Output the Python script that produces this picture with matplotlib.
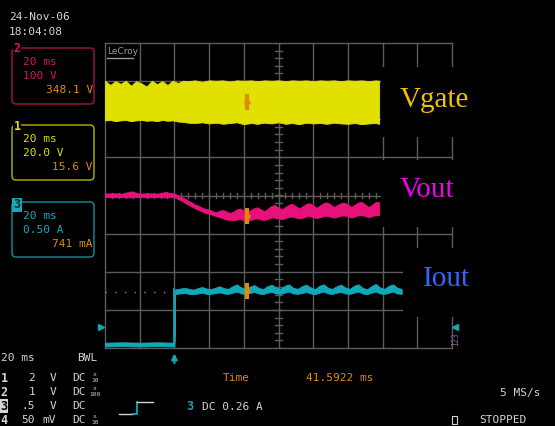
import numpy as np
import matplotlib
matplotlib.use("Agg")
import matplotlib.pyplot as plt
from matplotlib.patches import Rectangle, FancyBboxPatch

# ---------------- data (time in ms, amplitude in screen divisions) ----------------
time_per_div_ms = 20
t_left, t_right = -40, 160
cursor_time_ms = 41.5922

vgate_t = [-40, -37, -34, -31, -28, -25, -22, -19, -16, -13, -10, -7, -4, -1, 2, 5, 8, 12, 16, 20,
           24, 28, 32, 36, 40, 44, 48, 52, 56, 60, 64, 68, 72, 76, 80, 84, 88, 92, 96, 100,
           104, 108, 112, 116, 118]
vgate_top = [3.01, 2.90, 3.00, 2.93, 3.01, 2.88, 3.00, 2.94, 2.86, 3.01, 2.92, 3.00, 2.90, 3.01, 2.95,
             3.01, 3.00, 3.02, 2.98, 3.02, 3.01, 3.02, 2.99, 3.02, 3.01, 3.02, 3.00, 3.02, 3.01, 3.02,
             3.00, 3.02, 3.01, 3.02, 3.00, 3.02, 3.01, 3.02, 3.00, 3.02, 3.01, 3.02, 3.00, 3.02, 3.01]
vgate_bot = [1.97, 1.98, 1.95, 1.97, 1.98, 1.95, 1.97, 1.98, 1.96, 1.97, 1.95, 1.98, 1.96, 1.97, 1.94,
             1.93, 1.91, 1.90, 1.92, 1.89, 1.91, 1.88, 1.90, 1.92, 1.87, 1.90, 1.88, 1.91, 1.89, 1.92,
             1.88, 1.90, 1.87, 1.91, 1.89, 1.90, 1.88, 1.91, 1.89, 1.88, 1.90, 1.87, 1.89, 1.90, 1.88]

vout_t = [-40, -35, -30, -25, -20, -15, -10, -5, 0,
          2, 4, 6, 8, 10, 12, 14, 16, 18, 20, 22,
          24, 26, 28, 30, 32, 34, 36, 38, 40, 42, 44, 46, 48, 50, 52, 54, 56, 58, 60, 62,
          64, 66, 68, 70, 72, 74, 76, 78, 80, 82, 84, 86, 88, 90, 92, 94, 96, 98, 100, 102,
          104, 106, 108, 110, 112, 114, 116, 118]
vout_top = [0.05, 0.06, 0.05, 0.11, 0.05, 0.06, 0.05, 0.09, 0.05,
            0.01, -0.04, -0.08, -0.14, -0.18, -0.24, -0.27, -0.32, -0.35, -0.37, -0.41,
            -0.44, -0.40, -0.38, -0.42, -0.46, -0.42, -0.36, -0.34, -0.40, -0.44,
            -0.38, -0.33, -0.31, -0.37, -0.41, -0.34, -0.27, -0.25, -0.32, -0.36,
            -0.30, -0.24, -0.22, -0.28, -0.34, -0.28, -0.22, -0.20, -0.26, -0.32,
            -0.26, -0.20, -0.18, -0.24, -0.30, -0.25, -0.20, -0.19, -0.24, -0.30,
            -0.24, -0.18, -0.17, -0.24, -0.30, -0.24, -0.17, -0.18]
vout_bot = [-0.04, -0.05, -0.04, -0.05, -0.04, -0.05, -0.04, -0.05, -0.04,
            -0.09, -0.13, -0.19, -0.24, -0.29, -0.34, -0.38, -0.42, -0.46, -0.48, -0.51,
            -0.54, -0.57, -0.60, -0.63, -0.64, -0.65, -0.63, -0.62, -0.65, -0.67,
            -0.64, -0.61, -0.60, -0.63, -0.64, -0.61, -0.58, -0.57, -0.60, -0.62,
            -0.59, -0.56, -0.55, -0.58, -0.60, -0.58, -0.55, -0.54, -0.57, -0.59,
            -0.57, -0.54, -0.53, -0.56, -0.58, -0.56, -0.53, -0.52, -0.55, -0.58,
            -0.55, -0.52, -0.51, -0.54, -0.57, -0.54, -0.51, -0.52]

iout_t = [-40, -30, -20, -10, 0, 0.4,
          1, 3.5, 6, 8.5, 11, 13.5, 16, 18.5, 21, 23.5, 26, 28.5, 31, 33.5, 36, 38.5,
          41, 43.5, 46, 48.5, 51, 53.5, 56, 58.5, 61, 63.5, 66, 68.5, 71, 73.5, 76, 78.5,
          81, 83.5, 86, 88.5, 91, 93.5, 96, 98.5, 101, 103.5, 106, 108.5, 111, 113.5, 116, 118.5,
          121, 123.5, 126, 128.5, 131]
iout_top = [-3.86, -3.85, -3.86, -3.85, -3.86, -2.46,
            -2.46, -2.44, -2.42, -2.45, -2.47, -2.43, -2.40, -2.44, -2.46, -2.42, -2.38, -2.43,
            -2.45, -2.38, -2.33, -2.41, -2.45, -2.39, -2.35, -2.42, -2.46, -2.38, -2.34, -2.41,
            -2.45, -2.37, -2.33, -2.42, -2.45, -2.38, -2.34, -2.41, -2.46, -2.37, -2.33, -2.42,
            -2.45, -2.38, -2.34, -2.41, -2.45, -2.37, -2.33, -2.42, -2.46, -2.38, -2.32, -2.41,
            -2.45, -2.37, -2.33, -2.42, -2.45]
iout_bot = [-3.96, -3.95, -3.96, -3.95, -3.96, -2.58,
            -2.58, -2.57, -2.56, -2.58, -2.59, -2.57, -2.55, -2.58, -2.58, -2.56, -2.54, -2.57,
            -2.58, -2.55, -2.52, -2.57, -2.58, -2.56, -2.53, -2.57, -2.59, -2.55, -2.53, -2.57,
            -2.58, -2.55, -2.52, -2.57, -2.58, -2.56, -2.53, -2.57, -2.59, -2.55, -2.52, -2.57,
            -2.58, -2.55, -2.53, -2.57, -2.58, -2.55, -2.52, -2.57, -2.59, -2.55, -2.52, -2.57,
            -2.58, -2.55, -2.52, -2.57, -2.58]
iout_dotted_level = -2.52
ch3_ground_div = -3.45

# ---------------- styling ----------------
W, H = 555, 426
BG = "black"
GRID = "#5c5c5c"
YEL = "#e2e000"
PINK = "#e8107a"
CYAN = "#12a8b8"
ORANGE = "#de8a0c"
TXT = "#d4d4d4"
MONO = "DejaVu Sans Mono"

fig = plt.figure(figsize=(W / 100, H / 100), dpi=100, facecolor=BG)

# screen (graticule) axes
L, T, R, B = 105, 43, 452, 348
ax = fig.add_axes([L / W, 1 - B / H, (R - L) / W, (B - T) / H])
ax.set_xlim(t_left, t_right)
ax.set_ylim(-4, 4)
ax.axis("off")

for x in np.arange(t_left, t_right + 1, time_per_div_ms):
    ax.axvline(x, color=GRID, lw=1.0, clip_on=False, zorder=1)
for y in range(-4, 5):
    ax.axhline(y, color=GRID, lw=1.0, clip_on=False, zorder=1)

tc = (t_left + t_right) / 2
for y in np.arange(-4, 4.01, 0.2):
    ax.plot([tc - 2.2, tc + 2.2], [y, y], color=GRID, lw=1.0, zorder=1)
for x in np.arange(t_left, t_right + 0.1, 4):
    ax.plot([x, x], [-0.07, 0.07], color=GRID, lw=1.0, zorder=1)

# traces
ax.fill_between(vgate_t, vgate_bot, vgate_top, color=YEL, lw=0.6, zorder=3)
ax.fill_between(vout_t, vout_bot, vout_top, color=PINK, lw=0.6, zorder=3)
ax.fill_between(iout_t, iout_bot, iout_top, color=CYAN, lw=0.6, zorder=3)
ax.plot([iout_t[4], iout_t[4]], [iout_bot[4], iout_top[5]], color=CYAN, lw=1.2, zorder=3)
ax.hlines(iout_dotted_level, t_left, 0, colors="#8a8a8a", lw=1.0,
          linestyles=(0, (1, 6)), zorder=2)

# cursor markers
for tt, top, bot in [(vgate_t, vgate_top, vgate_bot), (vout_t, vout_top, vout_bot),
                     (iout_t, iout_top, iout_bot)]:
    yc = (np.interp(cursor_time_ms, tt, top) + np.interp(cursor_time_ms, tt, bot)) / 2
    ax.plot([cursor_time_ms], [yc], marker="|", ms=11, mew=3, color=ORANGE, zorder=5)
    ax.plot([cursor_time_ms], [yc], marker="_", ms=4, mew=2.5, color=ORANGE, zorder=5)

# trigger arrow and ground markers
ax.annotate("", xy=(0, -4.07), xytext=(0, -4.47), annotation_clip=False,
            arrowprops=dict(arrowstyle="-|>", color=CYAN, lw=1.6, mutation_scale=8))
ax.plot([t_left - 2.3], [ch3_ground_div], marker=">", ms=5, color=CYAN, clip_on=False)
ax.plot([t_right + 2.0], [ch3_ground_div], marker="<", ms=5, color=CYAN, clip_on=False)

# ---------------- overlay (pixel coordinates) ----------------
ov = fig.add_axes([0, 0, 1, 1])
ov.set_xlim(0, W)
ov.set_ylim(H, 0)
ov.axis("off")
ov.set_zorder(5)

# label cut-outs
for (x0, y0, w, h) in [(381, 67, 95, 70), (381, 160, 95, 67), (403, 248, 75, 69)]:
    ov.add_patch(Rectangle((x0, y0), w, h, facecolor=BG, edgecolor="none"))

ov.text(400, 107, "Vgate", family="Liberation Serif", fontsize=21, color="#f2c200", va="baseline")
ov.text(400, 197, "Vout", family="Liberation Serif", fontsize=21, color="#f000f0", va="baseline")
ov.text(423, 286, "Iout", family="Liberation Serif", fontsize=21, color="#3366ff", va="baseline")

# LeCroy logo
ov.text(107, 51, "LeCroy", family="DejaVu Sans", fontsize=6.5, color="#9a9a9a", va="center")
ov.plot([107, 133], [58, 58], color="#9a9a9a", lw=1)

# date / time
ov.text(9, 17, "24-Nov-06", family=MONO, fontsize=8, color=TXT, va="center")
ov.text(9, 32, "18:04:08", family=MONO, fontsize=8, color=TXT, va="center")

# channel boxes
boxes = [
    ("2", 48, 104, "#a8124e", "#d0186a", ["20 ms", "100 V"], "348.1 V"),
    ("1", 125, 180, "#b4b400", "#e0e000", ["20 ms", "20.0 V"], "15.6 V"),
    ("3", 202, 257, "#10909c", "#14a8b8", ["20 ms", "0.50 A"], "741 mA"),
]
for i, (lab, y0, y1, ec, tcol, lines, val) in enumerate(boxes):
    ov.add_patch(FancyBboxPatch((12, y0), 82, y1 - y0, boxstyle="round,pad=0,rounding_size=4",
                                facecolor="none", edgecolor=ec, lw=1.0))
    ov.text(23, y0 + 14, lines[0], family=MONO, fontsize=8, color=tcol, va="center")
    ov.text(23, y0 + 28, lines[1], family=MONO, fontsize=8, color=tcol, va="center")
    ov.text(93, y0 + 42, val, family=MONO, fontsize=8, color=ORANGE, va="center", ha="right")
    if lab == "3":
        ov.text(17, y0 + 3, lab, family=MONO, fontsize=8.5, fontweight="bold", color="#0a2a30",
                va="center", ha="center",
                bbox=dict(boxstyle="square,pad=0.08", facecolor=tcol, edgecolor="none"))
    else:
        ov.text(17, y0 + 1, lab, family=MONO, fontsize=8.5, fontweight="bold", color=tcol,
                va="center", ha="center",
                bbox=dict(boxstyle="square,pad=0.05", facecolor=BG, edgecolor="none"))

# bottom status text
ov.text(1, 358, "20 ms", family=MONO, fontsize=8, color=TXT, va="center")
ov.text(77, 358, "BWL", family=MONO, fontsize=8, color=TXT, va="center")
rows = [("1", "2", "V", "x/10"), ("2", "1", "V", "x/100"), ("3", ".5", "V", ""), ("4", "50", "mV", "x/10")]
for k, (num, v, u, frac) in enumerate(rows):
    yy = 378 + 14 * k
    if num == "3":
        ov.text(4, yy, num, family=MONO, fontsize=8.5, fontweight="bold", color="black",
                va="center", ha="center",
                bbox=dict(boxstyle="square,pad=0.05", facecolor=TXT, edgecolor="none"))
    else:
        ov.text(4, yy, num, family=MONO, fontsize=8.5, fontweight="bold", color=TXT,
                va="center", ha="center")
    ov.text(35, yy, v, family=MONO, fontsize=8, color=TXT, va="center", ha="right")
    ov.text(56, yy, u, family=MONO, fontsize=8, color=TXT, va="center", ha="right")
    ov.text(72, yy, "DC", family=MONO, fontsize=8, color=TXT, va="center")
    if frac:
        a, b = frac.split("/")
        ov.text(95, yy - 3, a, family=MONO, fontsize=4.5, color=TXT, va="center", ha="center")
        ov.text(95, yy + 3, b, family=MONO, fontsize=4.5, color=TXT, va="center", ha="center")

# trigger slope icon
ov.plot([119, 133], [414, 414], color=TXT, lw=1)
ov.plot([133, 137, 137], [414, 414, 402], color=CYAN, lw=1.3)
ov.plot([137, 153], [402, 402], color=TXT, lw=1)
ov.text(190, 407, "3", family=MONO, fontsize=8.5, fontweight="bold", color=CYAN, va="center", ha="center")
ov.text(202, 407, "DC 0.26 A", family=MONO, fontsize=8, color=TXT, va="center")

ov.text(223, 378, "Time", family=MONO, fontsize=8, color=ORANGE, va="center")
ov.text(306, 378, "41.5922 ms", family=MONO, fontsize=8, color=ORANGE, va="center")
ov.text(500, 393, "5 MS/s", family=MONO, fontsize=8, color=TXT, va="center")
ov.add_patch(Rectangle((452, 416), 5, 8, facecolor="none", edgecolor=TXT, lw=0.8))
ov.text(479, 420, "STOPPED", family=MONO, fontsize=8, color=TXT, va="center")
ov.text(456, 339, "123", family=MONO, fontsize=5.5, color="#8a58a8", va="center", ha="center",
        rotation=90)

fig.savefig("out.png", dpi=100, facecolor=BG)
